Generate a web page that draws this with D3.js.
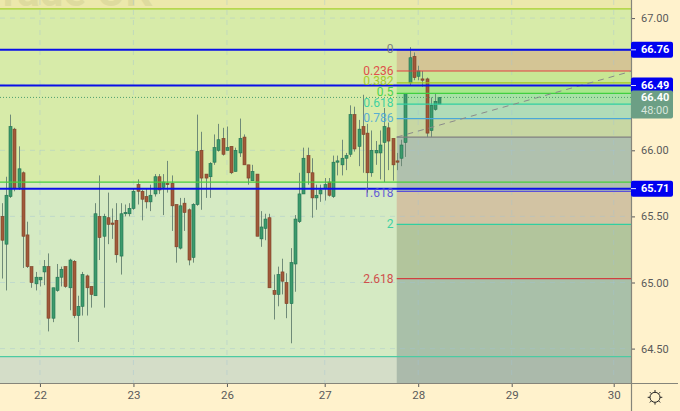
<!DOCTYPE html>
<html><head><meta charset="utf-8">
<style>html,body{margin:0;padding:0;background:#fff2cc}svg{display:block}text{font-family:Roboto,"Liberation Sans",sans-serif}</style>
<script src="https://cdn.jsdelivr.net/npm/d3@7/dist/d3.min.js"></script>
</head><body><svg id="c" width="680" height="411"></svg>
<script>
const opens=[65.50,65.29,65.65,66.16,65.72,65.83,65.36,65.12,64.99,65.02,65.08,65.12,64.73,64.94,65.04,65.12,64.96,65.16,64.75,64.82,65.05,64.97,64.90,65.50,65.35,65.49,65.45,65.47,65.20,65.52,65.52,65.56,65.74,65.69,65.65,65.61,65.67,65.80,65.72,65.75,65.75,65.59,65.26,65.60,65.55,65.19,65.59,66.00,65.82,65.80,65.91,66.00,66.09,66.00,66.03,65.84,65.98,66.10,65.89,65.77,65.82,65.33,65.41,65.49,64.94,64.91,65.08,65.00,64.84,65.14,65.46,65.67,65.96,65.83,65.64,65.67,65.71,65.76,65.65,65.91,65.89,65.94,65.97,66.27,66.03,66.18,66.13,65.83,65.98,65.98,66.06,66.17,66.09,65.92,65.94,66.06,66.51,66.71,66.56,66.54,66.54,66.15,66.31,66.35];
const highs=[65.60,65.80,66.27,66.17,66.03,65.84,65.46,65.12,65.08,65.04,65.17,65.22,64.96,65.14,65.12,65.12,65.18,65.17,64.90,65.08,65.06,64.97,65.60,65.81,65.52,65.68,65.56,65.60,65.60,65.59,65.60,65.71,65.78,65.70,65.71,65.74,65.82,65.82,65.82,65.92,65.81,65.59,65.64,65.64,65.56,65.60,66.27,66.14,65.82,65.91,66.12,66.20,66.17,66.18,66.03,66.02,66.24,66.12,65.89,65.89,65.82,65.54,65.52,65.52,65.06,65.12,65.18,65.07,65.26,65.51,65.83,66.02,66.02,65.94,65.74,65.74,65.79,65.79,65.96,65.96,66.08,65.98,66.34,66.33,66.23,66.42,66.20,66.15,66.07,66.15,66.32,66.21,66.09,65.98,66.08,66.43,66.78,66.74,66.64,66.60,66.55,66.40,66.43,66.40];
const lows=[65.03,64.94,65.64,65.69,65.70,65.11,65.11,64.96,64.94,64.97,64.98,64.63,64.70,64.93,64.97,64.96,64.79,64.73,64.55,64.75,64.75,64.81,64.90,65.17,64.81,65.29,65.33,65.15,65.06,65.50,65.50,65.55,65.59,65.47,65.56,65.54,65.65,65.67,65.51,65.68,65.39,65.15,65.25,65.39,65.13,65.15,65.58,65.55,65.64,65.64,65.89,65.99,65.96,66.00,65.82,65.84,65.95,65.89,65.74,65.77,65.35,65.27,65.32,64.96,64.72,64.82,64.91,64.73,64.54,64.93,65.45,65.67,65.74,65.49,65.55,65.61,65.62,65.65,65.64,65.81,65.81,65.85,65.95,65.99,65.88,65.83,65.68,65.80,65.89,65.78,65.76,65.85,65.77,65.85,65.88,65.95,66.49,66.53,66.53,66.48,66.10,66.10,66.30,66.35];
const closes=[65.32,65.66,66.18,65.71,65.86,65.35,65.12,65.00,65.04,65.04,65.12,64.73,64.96,65.04,65.10,64.97,65.17,64.75,64.82,65.06,64.96,64.91,65.52,65.34,65.50,65.44,65.44,65.21,65.52,65.53,65.56,65.69,65.69,65.63,65.61,65.66,65.80,65.70,65.76,65.74,65.58,65.27,65.58,65.53,65.17,65.59,65.99,65.79,65.79,65.90,66.02,66.08,65.97,66.02,65.83,66.00,66.09,65.89,65.79,65.84,65.35,65.42,65.48,64.96,64.91,65.06,65.01,64.84,65.15,65.48,65.67,65.94,65.83,65.64,65.66,65.70,65.74,65.66,65.91,65.92,65.94,65.96,66.27,66.01,66.16,66.12,65.83,66.00,66.00,66.04,66.18,66.07,65.89,65.91,66.04,66.43,66.70,66.55,66.60,66.53,66.13,66.34,66.37,66.40];

const priceTicks=[67,66.5,66,65.5,65,64.5];
const dayLabels=["22","23","26","27","28","29","30"];
const dayIndex=[9,31,53,76,98,120,144];
const fullLevels=[67.07,65.76,64.44];
const fibRatios=["0","0.236","0.382","0.5","0.618","0.786","1","1.618","2","2.618"];
const fibPrices=[66.76,66.60,66.51,66.43,66.35,66.24,66.10,65.69,65.44,65.03];
const fibShown=[true,true,true,true,true,true,false,true,true,true];
const blueLevels=[66.76,66.49,65.71];
const lastPrice=66.40, countdown="48:00";
const fibStartIndex=92.95;
const trendIdx=[92.95,148.4], trendPrices=[66.10,66.60];

const W=680,H=411,PW=631,PH=383;
const x=d3.scaleLinear().domain([0,147]).range([1.7,1.7+147*4.25]);
const y=d3.scaleLinear().domain([66+150.3/132.2,66-232.7/132.2]).range([0,383]);
const svg=d3.select("#c");
svg.append("defs").append("clipPath").attr("id","p").append("rect").attr("width",PW).attr("height",PH);
const g=svg.append("g").attr("clip-path","url(#p)");

// backgrounds
const baseBands=[[y.domain()[0],67.07,"#ece8ab"],[67.07,65.76,"#d7eba9"],[65.76,64.44,"#d5eac3"],[64.44,y.domain()[1],"#d4ddc8"]];
g.selectAll(".bb").data(baseBands).join("rect").attr("x",0).attr("width",PW)
 .attr("y",d=>y(d[0])).attr("height",d=>y(d[1])-y(d[0])).attr("fill",d=>d[2]);
g.append("text").attr("x",-22).attr("y",6).attr("font-size",42).attr("font-weight",700).attr("fill","#8a8a50").attr("opacity",.13).text("Trade OK");

// fib bands
const fx=x(fibStartIndex);
const bandColors=["#d4c595","#c8e694","#a9e78c","#a8e2a6","#b0dcb8","#c8d7a3","#b0c1ae","#d2c3a3","#b2c59c","#a9c0a9"];
const bandEdges=[66.76,66.60,66.49,66.43,66.35,66.24,66.10,65.69,65.44,65.03,64.44];
g.selectAll(".fb").data(bandColors).join("rect").attr("x",fx).attr("width",PW-fx)
 .attr("y",(d,i)=>y(bandEdges[i])).attr("height",(d,i)=>y(bandEdges[i+1])-y(bandEdges[i]))
 .attr("fill",d=>d);
g.append("rect").attr("x",fx).attr("width",PW-fx).attr("y",y(64.44)).attr("height",PH-y(64.44)).attr("fill","#abbaab");

// grid
const grid=g.append("g").attr("stroke","#9fc3d6").attr("stroke-opacity",.4).attr("stroke-dasharray","5 5");
grid.selectAll(".h").data(priceTicks).join("line").attr("x1",0).attr("x2",PW).attr("y1",d=>y(d)).attr("y2",d=>y(d));
grid.selectAll(".v").data(dayIndex).join("line").attr("x1",d=>x(d)).attr("x2",d=>x(d)).attr("y1",0).attr("y2",PH);

// candles
const idx=d3.range(opens.length);
const up=i=>closes[i]>=opens[i];
g.selectAll(".w").data(idx).join("line").attr("x1",i=>Math.round(x(i))+.5).attr("x2",i=>Math.round(x(i))+.5)
 .attr("y1",i=>y(highs[i])).attr("y2",i=>y(lows[i])).attr("stroke","#6f8a78").attr("stroke-width",1);
g.selectAll(".b").data(idx).join("rect").attr("x",i=>Math.round(x(i))-1).attr("width",3)
 .attr("y",i=>y(Math.max(opens[i],closes[i]))).attr("height",i=>Math.max(1,Math.abs(y(opens[i])-y(closes[i]))))
 .attr("fill",i=>up(i)?"#3c9a6c":"#a05a3a").attr("stroke",i=>up(i)?"#1f7150":"#7c3f26").attr("stroke-width",.6);

const fibColors=["#787878","#e04040","#a0c820","#40d040","#30cfa0","#4aa8d8","#808080","#5a50d8","#30cfa0","#d04040"];
g.selectAll(".fl").data(fibPrices).join("line").attr("x1",fx).attr("x2",PW).attr("y1",d=>y(d)).attr("y2",d=>y(d))
 .attr("stroke",(d,i)=>fibColors[i]).attr("stroke-width",1.2);
g.append("line").attr("x1",x(trendIdx[0])).attr("x2",x(trendIdx[1])).attr("y1",y(trendPrices[0])).attr("y2",y(trendPrices[1]))
 .attr("stroke","#8a8a8a").attr("stroke-dasharray","6 5");

// full lines
const fullColors=["#a6d02c","#46cf3c","#4ccba2"];
g.selectAll(".ll").data(fullLevels).join("line").attr("x1",0).attr("x2",PW).attr("y1",d=>y(d)).attr("y2",d=>y(d))
 .attr("stroke",(d,i)=>fullColors[i]).attr("stroke-width",1.2);
g.append("line").attr("x1",0).attr("x2",PW).attr("y1",y(lastPrice)).attr("y2",y(lastPrice)).attr("stroke","#4f9f70").attr("stroke-dasharray","1 2");
g.selectAll(".bl").data(blueLevels).join("line").attr("x1",0).attr("x2",PW).attr("y1",d=>y(d)).attr("y2",d=>y(d))
 .attr("stroke","#0a10e8").attr("stroke-width",2);

// fib labels
g.selectAll(".ft").data(fibRatios.filter((d,i)=>fibShown[i])).join("text")
 .attr("x",393.5).attr("text-anchor","end").attr("dominant-baseline","central").attr("font-size",12)
 .attr("y",d=>y(fibPrices[fibRatios.indexOf(d)])-({"0.382":2,"0.618":1,"1.618":-2,"0":1,"0.5":1,"0.786":1}[d]||0))
 .attr("fill",d=>fibColors[fibRatios.indexOf(d)]).attr("opacity",.9).text(d=>d);

// axes
const ya=d3.axisRight(y).tickValues(priceTicks.filter(d=>d!==66.5)).tickFormat(d3.format(".2f")).tickSize(4).tickPadding(6);
const ag=svg.append("g").attr("transform",`translate(${PW},0)`).call(ya);
ag.select(".domain").remove();
ag.selectAll("text").attr("fill","#5a5a5a").attr("font-size",11).style("font-family","Roboto,sans-serif");
ag.selectAll("line").attr("stroke","#5a5a5a");
const xa=d3.axisBottom(x).tickValues(dayIndex).tickFormat((d,i)=>dayLabels[i]).tickSize(4).tickPadding(4);
const bg=svg.append("g").attr("transform",`translate(0,${PH})`).call(xa);
bg.select(".domain").remove();
bg.selectAll("text").attr("fill","#5a5a5a").attr("font-size",11.5).style("font-family","Roboto,sans-serif");
bg.selectAll("line").attr("stroke","#5a5a5a");
svg.append("line").attr("x1",0).attr("x2",678).attr("y1",PH+.5).attr("y2",PH+.5).attr("stroke","#85857a").attr("stroke-width",1.2);
svg.append("line").attr("x1",PW+.5).attr("x2",PW+.5).attr("y1",0).attr("y2",H).attr("stroke","#85857a").attr("stroke-width",1.2);

// price tags
blueLevels.forEach(v=>{
  svg.append("rect").attr("x",PW).attr("y",y(v)-8).attr("width",42).attr("height",16).attr("rx",2).attr("fill","#0000f0");
  svg.append("line").attr("x1",PW).attr("x2",PW+5).attr("y1",y(v)).attr("y2",y(v)).attr("stroke","#e8e8ff");
  svg.append("text").attr("x",PW+10).attr("y",y(v)).attr("dominant-baseline","central").attr("fill","#fff").attr("font-size",11).attr("font-weight",700).text(v.toFixed(2));
});
svg.append("rect").attr("x",PW).attr("y",y(lastPrice)-7).attr("width",42).attr("height",28).attr("rx",2).attr("fill","#6c9f85");
svg.append("text").attr("x",PW+10).attr("y",y(lastPrice)+.5).attr("dominant-baseline","central").attr("fill","#fff").attr("font-size",11).attr("font-weight",700).text(lastPrice.toFixed(2));
svg.append("text").attr("x",PW+10).attr("y",y(lastPrice)+13.5).attr("dominant-baseline","central").attr("fill","#d8e6dc").attr("font-size",11).text(countdown);

// gear
const gear=svg.append("g").attr("transform","translate(655,397.3)").attr("fill","none").attr("stroke","#222");
gear.append("circle").attr("r",5);
gear.selectAll("line").data(d3.range(8)).join("line")
 .attr("x1",i=>5*Math.cos(i*Math.PI/4)).attr("y1",i=>5*Math.sin(i*Math.PI/4))
 .attr("x2",i=>7.3*Math.cos(i*Math.PI/4)).attr("y2",i=>7.3*Math.sin(i*Math.PI/4));
</script></body></html>
